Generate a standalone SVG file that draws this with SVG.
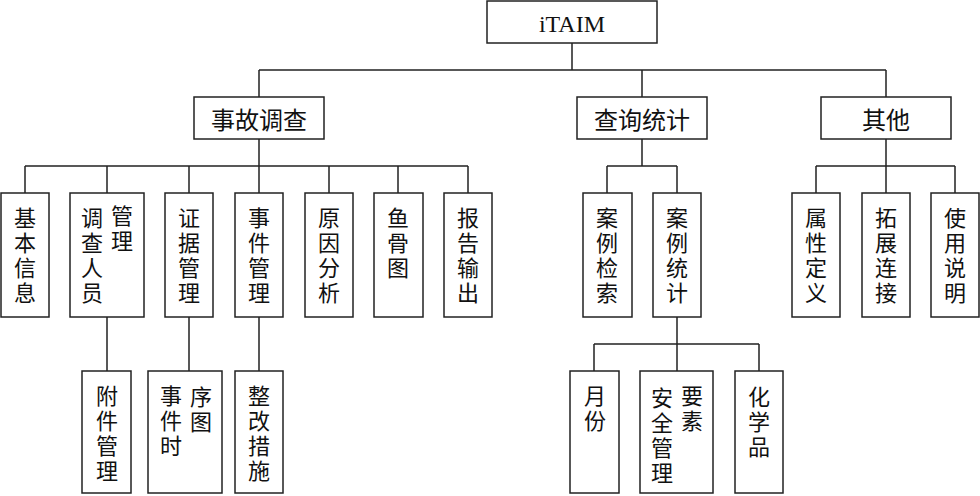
<svg xmlns="http://www.w3.org/2000/svg" width="980" height="496" viewBox="0 0 980 496">
<style>
  .box { fill: #fff; stroke: #222; stroke-width: 1.5; }
  .ln { fill: none; stroke: #222; stroke-width: 1.5; }
  .cjk { font-family: "Noto Sans CJK SC", "Noto Sans", sans-serif; font-size: 22px; fill: #111; text-anchor: middle; }
  .v { writing-mode: vertical-rl; letter-spacing: 3px; }
  .l1 { font-size: 24px; dominant-baseline: central; }
  .root { font-family: "Liberation Serif", "Times New Roman", serif; font-size: 24px; fill: #111; text-anchor: middle; }
</style>
<rect width="980" height="496" fill="#fff"/>
<g id="connectors">
  <path class="ln" d="M572 43V70M259 70H886M259 70V97M642 70V97M886 70V97"/>
  <path class="ln" d="M259 139V166M25 166H468M25 166V193M107 166V193M189 166V193M259 166V193M329 166V193M398 166V193M468 166V193"/>
  <path class="ln" d="M642 139V166M607 166H677M607 166V193M677 166V193"/>
  <path class="ln" d="M886 139V166M816 166H955M816 166V193M886 166V193M955 166V193"/>
  <path class="ln" d="M107 317V371M189 317V371M259 317V371"/>
  <path class="ln" d="M677 317V344M594 344H759M594 344V371M677 344V371M759 344V371"/>
</g>
<g id="root"><rect class="box" x="487" y="1" width="170" height="42"/><text class="root" x="572" y="32">iTAIM</text></g>
<g id="n_sgdc"><rect class="box" x="194" y="97" width="130" height="42"/><text class="cjk l1" x="259" y="118">事故调查</text></g>
<g id="n_cxtj"><rect class="box" x="577" y="97" width="130" height="42"/><text class="cjk l1" x="642" y="118">查询统计</text></g>
<g id="n_qt"><rect class="box" x="821" y="97" width="130" height="42"/><text class="cjk l1" x="886" y="118">其他</text></g>

<g id="n_jbxx"><rect class="box" x="1" y="193" width="48" height="124"/><text class="cjk v" x="25" y="257">基本信息</text></g>
<g id="n_dcry"><rect class="box" x="70" y="193" width="74" height="124"/><text class="cjk v" x="92" y="257">调查人员</text><text class="cjk v" x="122" y="230">管理</text></g>
<g id="n_zjgl"><rect class="box" x="165" y="193" width="48" height="124"/><text class="cjk v" x="189" y="257">证据管理</text></g>
<g id="n_sjgl"><rect class="box" x="235" y="193" width="48" height="124"/><text class="cjk v" x="259" y="257">事件管理</text></g>
<g id="n_yyfx"><rect class="box" x="305" y="193" width="48" height="124"/><text class="cjk v" x="329" y="257">原因分析</text></g>
<g id="n_ygt"><rect class="box" x="374" y="193" width="49" height="124"/><text class="cjk v" x="398" y="244">鱼骨图</text></g>
<g id="n_bgsc"><rect class="box" x="444" y="193" width="48" height="124"/><text class="cjk v" x="468" y="257">报告输出</text></g>

<g id="n_aljs"><rect class="box" x="583" y="193" width="49" height="124"/><text class="cjk v" x="607" y="257">案例检索</text></g>
<g id="n_altj"><rect class="box" x="653" y="193" width="48" height="124"/><text class="cjk v" x="677" y="257">案例统计</text></g>

<g id="n_sxdy"><rect class="box" x="792" y="193" width="48" height="124"/><text class="cjk v" x="816" y="257">属性定义</text></g>
<g id="n_tzlj"><rect class="box" x="862" y="193" width="48" height="124"/><text class="cjk v" x="886" y="257">拓展连接</text></g>
<g id="n_sysm"><rect class="box" x="931" y="193" width="48" height="124"/><text class="cjk v" x="955" y="257">使用说明</text></g>

<g id="n_fjgl"><rect class="box" x="82" y="371" width="49" height="122"/><text class="cjk v" x="107" y="435">附件管理</text></g>
<g id="n_sjsxt"><rect class="box" x="148" y="371" width="74" height="122"/><text class="cjk v" x="171" y="422">事件时</text><text class="cjk v" x="201" y="411">序图</text></g>
<g id="n_zgcs"><rect class="box" x="235" y="371" width="48" height="122"/><text class="cjk v" x="259" y="435">整改措施</text></g>

<g id="n_yf"><rect class="box" x="570" y="371" width="49" height="122"/><text class="cjk v" x="595" y="410">月份</text></g>
<g id="n_aqglys"><rect class="box" x="640" y="371" width="73" height="122"/><text class="cjk v" x="662" y="437">安全管理</text><text class="cjk v" x="692" y="410">要素</text></g>
<g id="n_hxp"><rect class="box" x="735" y="371" width="48" height="122"/><text class="cjk v" x="759" y="423">化学品</text></g>
</svg>
